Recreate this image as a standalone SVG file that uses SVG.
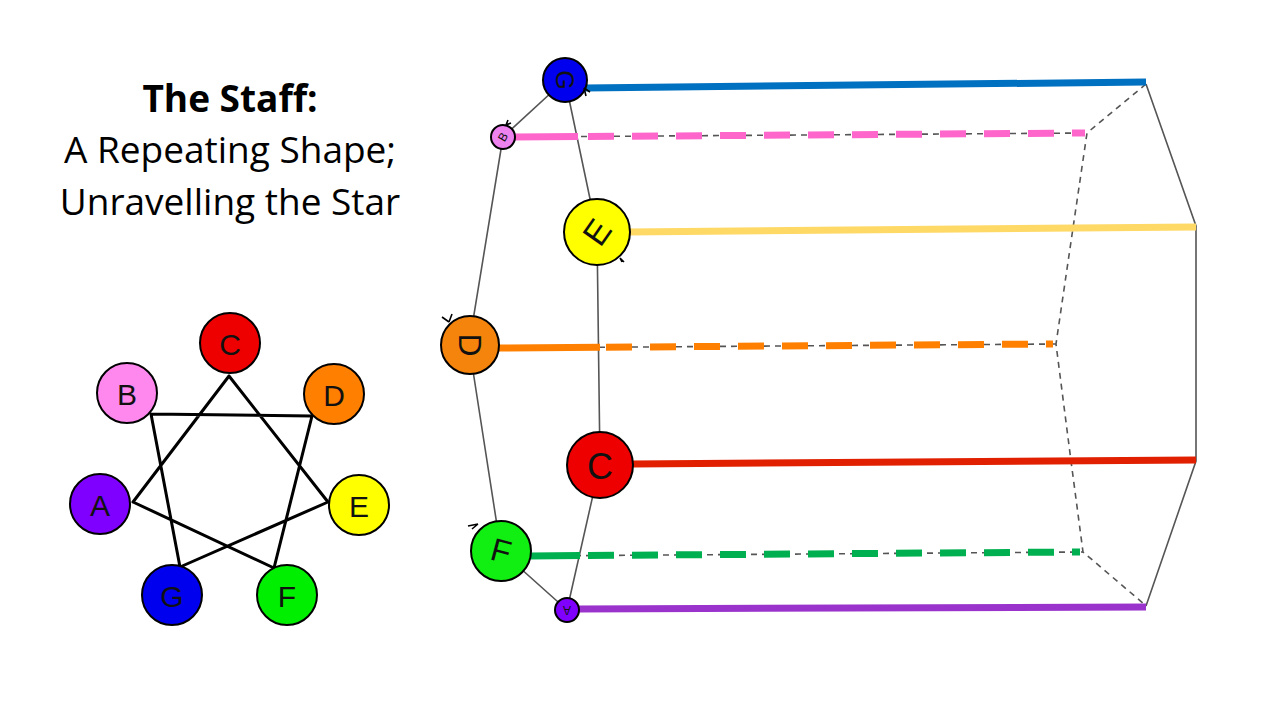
<svg xmlns="http://www.w3.org/2000/svg" width="1280" height="720" viewBox="0 0 1280 720">
<style>
.title{font-family:"Open Sans","Liberation Sans",sans-serif;font-size:37px;fill:#000;text-anchor:middle}
.lbl{font-family:"Liberation Sans",Arial,sans-serif;fill:#111;text-anchor:middle;dominant-baseline:central}
.nd{stroke:#000;stroke-width:2}
.star{stroke:#000;stroke-width:3;fill:none;stroke-linecap:round}
.edge{stroke:#555;stroke-width:1.6;fill:none}
.gd{stroke:#555;stroke-width:1.6;fill:none;stroke-dasharray:6 5}
.thick{stroke-width:7;fill:none}
.dash{stroke-dasharray:26 18}
.hook{stroke:#000;stroke-width:1.6;fill:none}
</style>
<rect width="1280" height="720" fill="#fff"/>
<g id="title">
<text class="title" x="230" y="112" font-weight="bold" font-size="35">The Staff:</text>
<text class="title" x="230" y="163">A Repeating Shape;</text>
<text class="title" x="230" y="215">Unravelling the Star</text>
</g>
<g id="star-lines">
<path class="star" d="M229 376 L133 502 M229 376 L328 502 M151 414 L312 416 M151 414 L180 567 M312 416 L274 568 M133 502 L274 568 M328 502 L180 567"/>
</g>
<g id="star-C"><circle class="nd" cx="230" cy="343" r="30" fill="#ee0000"/><text class="lbl" x="230" y="344" font-size="30">C</text></g>
<g id="star-B"><circle class="nd" cx="127" cy="393" r="30" fill="#ff88ee"/><text class="lbl" x="127" y="394" font-size="30">B</text></g>
<g id="star-D"><circle class="nd" cx="334" cy="394" r="30" fill="#ff7f00"/><text class="lbl" x="334" y="395" font-size="30">D</text></g>
<g id="star-A"><circle class="nd" cx="100" cy="504" r="30" fill="#7f00ff"/><text class="lbl" x="100" y="505" font-size="30">A</text></g>
<g id="star-E"><circle class="nd" cx="359" cy="505" r="30" fill="#ffff00"/><text class="lbl" x="359" y="506" font-size="30">E</text></g>
<g id="star-G"><circle class="nd" cx="172" cy="595" r="30" fill="#0000ee"/><text class="lbl" x="172" y="596" font-size="30">G</text></g>
<g id="star-F"><circle class="nd" cx="287" cy="595" r="30" fill="#00ee00"/><text class="lbl" x="287" y="596" font-size="30">F</text></g>

<g id="connectors">
<path class="edge" d="M565 80 L503 137 M565 80 L597 232 M503 137 L469 345 M597 232 L600 464 M469 345 L501 551 M600 464 L567 610 M501 551 L567 610"/>
<path class="edge" d="M1146 84 L1196 226 L1196 461 L1146 606"/>
<path class="gd" d="M1146 84 L1087 133 L1073 228 L1056 344 L1071 461 L1083 552 L1144 604"/>
<path class="gd" d="M515 137 L1087 133 M500 348 L1056 344 M531 556 L1083 552"/>
<path class="thick" stroke="#0070c0" d="M585 88 L1146 82"/>
<path class="thick" stroke="#ffd966" d="M628 232 L1196 227"/>
<path class="thick" stroke="#e02000" stroke-width="8" d="M633 464 L1196 460"/>
<path class="thick" stroke="#9933cc" d="M578 609 L1146 607"/>
<path class="thick" stroke="#ff66cc" stroke-width="6" d="M514 137 L578 136.6"/>
<path class="thick dash" stroke="#ff66cc" stroke-width="6" d="M588 136.5 L1085 133"/>
<path class="thick" stroke="#ff8000" stroke-width="6" d="M499 348 L600 347.3"/>
<path class="thick dash" stroke="#ff8000" stroke-width="6" d="M606 347.2 L1053 344"/>
<path class="thick" stroke="#00b050" stroke-width="6" d="M530 556 L580 555.6"/>
<path class="thick dash" stroke="#00b050" stroke-width="6" d="M588 555.5 L1080 552"/>
</g>

<g id="node-G"><circle class="nd" cx="565" cy="80" r="22" fill="#0000ee"/><text class="lbl" x="565" y="80" font-size="25" transform="rotate(90 565 80)">G</text><path class="hook" d="M584 88 L586 96 M584 88 L590 92"/></g>
<g id="node-B"><circle class="nd" cx="503" cy="137" r="12" fill="#ee82ee"/><text class="lbl" x="503" y="137" font-size="12" transform="rotate(-60 503 137)">B</text><path class="hook" d="M506 125 L508 120 M506 125 L511 123"/></g>
<g id="node-E"><circle class="nd" cx="597" cy="232" r="33" fill="#ffff00"/><text class="lbl" x="597" y="232" font-size="34" transform="rotate(-55 597 232)">E</text><path class="hook" d="M620 258 L624 262 M620 258 L622 262"/></g>
<g id="node-D"><circle class="nd" cx="470" cy="345" r="29" fill="#f5840c"/><text class="lbl" x="470" y="345" font-size="32" transform="rotate(90 470 345)">D</text><path class="hook" d="M449 322 L442 317 M449 322 L452 314"/></g>
<g id="node-C"><circle class="nd" cx="600" cy="465" r="33" fill="#ee0000"/><text class="lbl" x="600" y="466" font-size="36">C</text></g>
<g id="node-F"><circle class="nd" cx="501" cy="551" r="30" fill="#11ee11"/><text class="lbl" x="501" y="551" font-size="32" transform="rotate(15 501 551)">F</text><path class="hook" d="M478 524 L468 526 M478 524 L472 529"/></g>
<g id="node-A"><circle class="nd" cx="567" cy="610" r="12" fill="#8000ff"/><text class="lbl" x="567" y="610" font-size="12" transform="rotate(180 567 610)">A</text></g>
</svg>
